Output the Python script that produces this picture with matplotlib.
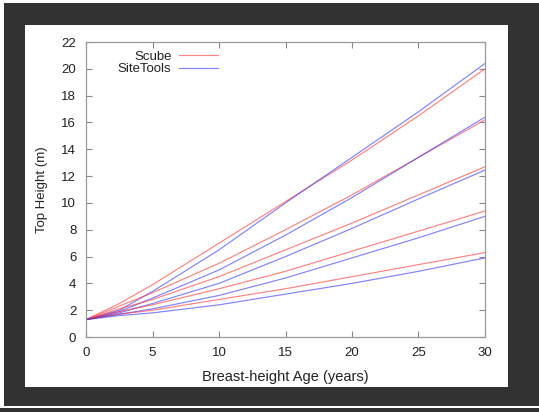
import matplotlib
matplotlib.use("Agg")
import matplotlib.pyplot as plt
from matplotlib.patches import Rectangle

ages = [0, 2.5, 5, 10, 15, 20, 25, 30]

scube = [
    [1.3, 2.5, 3.9, 7.0, 10.1, 13.2, 16.5, 20.0],
    [1.3, 2.3, 3.3, 5.5, 8.0, 10.6, 13.4, 16.2],
    [1.3, 2.1, 2.8, 4.5, 6.5, 8.5, 10.6, 12.7],
    [1.3, 1.9, 2.4, 3.6, 4.9, 6.4, 7.9, 9.4],
    [1.3, 1.7, 2.0, 2.8, 3.6, 4.5, 5.4, 6.3],
]
sitetools = [
    [1.3, 2.0, 3.4, 6.5, 10.0, 13.4, 16.8, 20.4],
    [1.3, 1.9, 2.9, 5.0, 7.6, 10.4, 13.4, 16.4],
    [1.3, 1.8, 2.5, 4.0, 6.0, 8.1, 10.3, 12.45],
    [1.3, 1.7, 2.1, 3.1, 4.4, 5.9, 7.4, 9.0],
    [1.3, 1.6, 1.8, 2.4, 3.2, 4.0, 4.9, 5.9],
]
series_labels = ["Scube", "SiteTools"]
xticks = [0, 5, 10, 15, 20, 25, 30]
yticks = list(range(0, 23, 2))

plt.rcParams['font.family'] = ['Liberation Sans', 'DejaVu Sans']

fig = plt.figure(figsize=(5.39, 4.12), dpi=100)
fig.patch.set_facecolor('white')
fig.add_artist(Rectangle((0.0074, 0.0146), 1.0, 0.9927 - 0.0146,
                         transform=fig.transFigure, facecolor='#323232',
                         edgecolor='none', zorder=-3))
fig.add_artist(Rectangle((0.0, 0.0), 1.0, 0.0097,
                         transform=fig.transFigure, facecolor='#323232',
                         edgecolor='none', zorder=-3))
fig.add_artist(Rectangle((0.0464, 0.0607), 0.9425 - 0.0464, 0.9393 - 0.0607,
                         transform=fig.transFigure, facecolor='white',
                         edgecolor='none', zorder=-2))

ax = fig.add_axes([0.1596, 0.182, 0.8998 - 0.1596, 0.898 - 0.182])
ax.set_facecolor('white')

red = '#ff3030'
blue = '#3030ff'
for i, (r, b) in enumerate(zip(scube, sitetools)):
    ax.plot(ages, r, color=red, lw=0.85, alpha=0.6,
            label=series_labels[0] if i == 0 else None)
    ax.plot(ages, b, color=blue, lw=0.85, alpha=0.6,
            label=series_labels[1] if i == 0 else None)

ax.set_xlim(0, 30)
ax.set_ylim(0, 22)
ax.set_xticks(xticks)
ax.set_yticks(yticks)
ax.tick_params(direction='in', length=4, width=0.8, color='#888888',
               top=True, right=True, labelsize=9.5, labelcolor='#222222', pad=7)
for s in ax.spines.values():
    s.set_color('#999999')
    s.set_linewidth(0.9)

ax.set_xlabel('Breast-height Age (years)', fontsize=10.5, color='#222222', labelpad=8)
ax.set_ylabel('Top Height (m)', fontsize=9.5, color='#222222', labelpad=10)

leg = ax.legend(loc='upper left', bbox_to_anchor=(0.05, 1.012), frameon=False,
                markerfirst=False, fontsize=9.5, handlelength=2.9,
                handletextpad=0.6, labelspacing=0.05)
for t in leg.get_texts():
    t.set_color('#222222')

fig.savefig('out.png', dpi=100, facecolor=fig.get_facecolor())
